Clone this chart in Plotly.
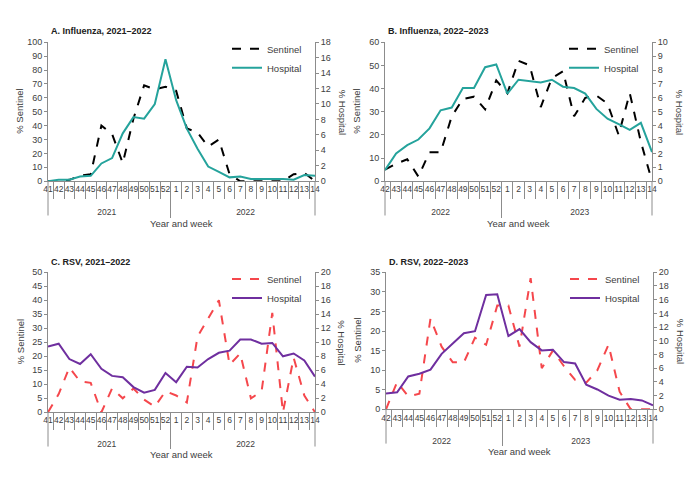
import plotly.graph_objects as go

W, H = 700, 477

# ---------------- data ----------------
weeks_A = ["41","42","43","44","45","46","47","48","49","50","51","52",
           "1","2","3","4","5","6","7","8","9","10","11","12","13","14"]
years_A = ["2021"]*12 + ["2022"]*14
sent_A = [0,0,1,4,5,40,34,13,45,69,66,68,65,38,35,25,30,5,0,0,0,0,0,5,6,0]
hosp_A = [0,0.2,0.2,0.6,0.7,2.3,3.0,6.2,8.3,8.1,10.0,15.8,10.5,6.8,4.2,1.9,1.2,0.5,0.6,0.3,0.3,0.3,0.3,0.2,0.8,0.7]

weeks_B = ["42","43","44","45","46","47","48","49","50","51","52",
           "1","2","3","4","5","6","7","8","9","10","11","12","13","14"]
years_B = ["2022"]*11 + ["2023"]*14
sent_B = [5,7.5,9.5,2,12.5,12.5,28,35.5,36.5,31,43.5,38,52,50,32,44.5,47.5,28,36,37,33.5,20,38,17,0]
hosp_B = [0.8,2.0,2.6,3.0,3.8,5.1,5.3,6.7,6.7,8.2,8.4,6.3,7.3,7.2,7.1,7.3,6.8,6.7,6.3,5.2,4.5,4.1,3.7,4.2,2.1]

weeks_C = weeks_A
years_C = years_A
sent_C = [0,6.5,16,11,10.5,0,8.5,5,8.5,4.5,2,7.5,6,3.5,27,33.5,40,17,21,5,7.5,35.5,0,19.5,6,0]
hosp_C = [9.4,9.8,7.6,6.9,8.3,6.2,5.2,5.0,3.6,2.8,3.2,5.6,4.3,6.5,6.4,7.6,8.5,8.8,10.4,10.4,9.8,9.9,8.0,8.4,7.4,5.1]

weeks_D = weeks_B
years_D = years_B
sent_D = [0,7,3.3,4,23.2,16,12,12,18.3,16.5,26.5,26.5,16,33.5,10.5,15,11,7.5,6.8,10,16.5,4.5,0,0,0]
hosp_D = [2.3,2.5,4.8,5.2,5.8,8.1,9.6,11.1,11.4,16.7,16.8,10.7,11.7,9.8,8.6,8.7,6.9,6.7,3.6,2.9,2.0,1.4,1.5,1.3,0.6]

titles = ["A. Influenza, 2021\u20132022", "B. Influenza, 2022\u20132023",
          "C. RSV, 2021\u20132022", "D. RSV, 2022\u20132023"]

# ---------------- styling ----------------
FONT = "Liberation Sans Narrow, Liberation Sans, Arial, sans-serif"
AX = "#8c8c8c"
TXT = "#404040"
TEAL = "#25a39c"
PURPLE = "#6f2f9f"
RED = "#f5474c"

# panel boxes in pixels: (left, right, top, bottom)
boxes = [(48, 315, 38, 180), (385, 652, 38, 180),
         (48, 315, 273, 416), (386, 653, 273, 413)]

panels = [
    (years_A, weeks_A, sent_A, hosp_A, "black", TEAL, [0, 100], 10, [0, 18], 2),
    (years_B, weeks_B, sent_B, hosp_B, "black", TEAL, [0, 60], 10, [0, 10], 1),
    (years_C, weeks_C, sent_C, hosp_C, RED, PURPLE, [0, 50], 5, [0, 20], 2),
    (years_D, weeks_D, sent_D, hosp_D, RED, PURPLE, [0, 35], 5, [0, 20], 2),
]

fig = go.Figure()
layout = dict(width=W, height=H, margin=dict(l=0, r=0, t=0, b=0),
              paper_bgcolor="white", plot_bgcolor="white",
              font=dict(family=FONT, size=9, color=TXT), showlegend=True)
annotations = []
shapes = []

for i, (yrs, wks, s, h, sc, hc, lr, ld, rr, rd) in enumerate(panels):
    n = i + 1
    l, r, t, b = boxes[i]
    xd = [l / W, r / W]
    yd = [1 - b / H, 1 - t / H]
    xa = "xaxis" if n == 1 else f"xaxis{n}"
    ya = "yaxis" if n == 1 else f"yaxis{n}"
    ya2 = f"yaxis{n + 4}"
    xref = "x" if n == 1 else f"x{n}"
    yref = "y" if n == 1 else f"y{n}"
    y2ref = f"y{n + 4}"
    leg = "legend" if n == 1 else f"legend{n}"

    # year labels sit one line below the week labels
    year_lbl = ["<br>" + y for y in yrs]

    fig.add_trace(go.Scatter(x=[year_lbl, wks], y=s, name="Sentinel",
                             mode="lines",
                             line=dict(color=sc, width=2, dash="dash"),
                             xaxis=xref, yaxis=yref, legend=leg))
    fig.add_trace(go.Scatter(x=[year_lbl, wks], y=h, name="Hospital",
                             mode="lines", line=dict(color=hc, width=2),
                             xaxis=xref, yaxis=y2ref, legend=leg))

    layout[xa] = dict(domain=xd, anchor=yref, type="multicategory",
                      tickmode="linear", tick0=0, dtick=1, tickangle=0,
                      showline=True, linecolor=AX, linewidth=1,
                      ticks="outside", tickson="boundaries", ticklen=17,
                      tickcolor=AX, showdividers=True, dividercolor=AX,
                      dividerwidth=1, showgrid=False, zeroline=False,
                      tickfont=dict(size=8.5, color=TXT))
    layout[ya] = dict(domain=yd, anchor=xref, range=lr, dtick=ld,
                      showline=True, linecolor=AX, linewidth=1,
                      ticks="outside", ticklen=3, tickcolor=AX,
                      showgrid=False, zeroline=False,
                      tickfont=dict(size=9, color=TXT))
    layout[ya2] = dict(domain=yd, anchor=xref, overlaying=yref, side="right",
                       range=rr, dtick=rd, showline=True, linecolor=AX,
                       linewidth=1, ticks="outside", ticklen=3, tickcolor=AX,
                       showgrid=False, zeroline=False,
                       tickfont=dict(size=9, color=TXT))
    layout[leg] = dict(x=(r - 88) / W, y=1 - (t - 8) / H, xanchor="left",
                       yanchor="top", bgcolor="rgba(0,0,0,0)",
                       font=dict(size=9.5, color=TXT), tracegroupgap=0,
                       itemwidth=30)

    # outer edges of the category label block
    for ex in (0, 1):
        shapes.append(dict(type="line", xref=f"{xref} domain", yref="paper",
                           x0=ex, x1=ex, y0=1 - b / H, y1=1 - (b + 35) / H,
                           line=dict(color=AX, width=1)))

    # panel title
    annotations.append(dict(text=f"<b>{titles[i]}</b>", x=(l + 1) / W,
                            y=1 - (t - 11) / H, xref="paper", yref="paper",
                            xanchor="left", yanchor="middle", showarrow=False,
                            font=dict(size=9, color="#202020")))
    # axis titles
    annotations.append(dict(text="% Sentinel", x=(l - 28) / W,
                            y=1 - (t + b) / 2 / H, xref="paper", yref="paper",
                            xanchor="center", yanchor="middle",
                            textangle=-90, showarrow=False,
                            font=dict(size=9.5, color=TXT)))
    annotations.append(dict(text="% Hospital", x=(r + 27) / W,
                            y=1 - (t + b) / 2 / H, xref="paper", yref="paper",
                            xanchor="center", yanchor="middle",
                            textangle=90, showarrow=False,
                            font=dict(size=9.5, color=TXT)))
    annotations.append(dict(text="Year and week", x=(l + r) / 2 / W,
                            y=1 - (b + 43) / H, xref="paper", yref="paper",
                            xanchor="center", yanchor="middle",
                            showarrow=False, font=dict(size=9.5, color=TXT)))

layout["annotations"] = annotations
layout["shapes"] = shapes
fig.update_layout(**layout)
fig.write_html("out.html", config={"displayModeBar": False},
               post_script="document.body.style.margin='0px';")
